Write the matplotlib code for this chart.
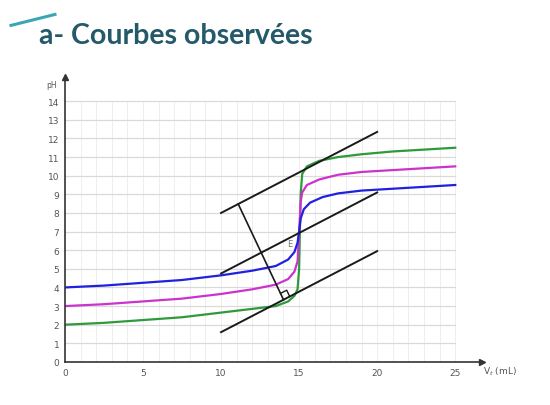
import numpy as np
import matplotlib.pyplot as plt
from matplotlib.lines import Line2D

# volumes (mL) and pH
blue_x = [0, 2.5, 5, 7.5, 10, 12, 13.5, 14.3, 14.7, 14.9, 15.0, 15.1, 15.3, 15.7, 16.5, 17.5, 19, 21, 23, 25]
blue_y = [4.0, 4.1, 4.25, 4.4, 4.65, 4.9, 5.15, 5.5, 5.9, 6.4, 7.0, 7.7, 8.2, 8.55, 8.85, 9.05, 9.2, 9.3, 9.4, 9.5]

magenta_x = [0, 2.5, 5, 7.5, 10, 12, 13.5, 14.3, 14.7, 14.9, 15.0, 15.1, 15.2, 15.5, 16.3, 17.5, 19, 21, 23, 25]
magenta_y = [3.0, 3.1, 3.25, 3.4, 3.65, 3.9, 4.15, 4.45, 4.85, 5.4, 7.0, 8.6, 9.1, 9.5, 9.8, 10.05, 10.2, 10.3, 10.4, 10.5]

green_x = [0, 2.5, 5, 7.5, 10, 12, 13.5, 14.3, 14.7, 14.9, 15.0, 15.05, 15.1, 15.2, 15.5, 16.3, 17.5, 19, 21, 23, 25]
green_y = [2.0, 2.1, 2.25, 2.4, 2.65, 2.85, 3.0, 3.25, 3.55, 3.9, 5.0, 7.0, 9.0, 10.1, 10.5, 10.8, 11.0, 11.15, 11.3, 11.4, 11.5]

# parallel tangents method
tangent_x = [10, 20]
tangent_top = [8.0, 12.35]
tangent_mid = [4.75, 9.1]
tangent_low = [1.6, 5.95]
perp_x = [11.1, 14.0]
perp_y = [8.48, 3.34]
point_e = (14.4, 6.35)

x_ticks = [0, 5, 10, 15, 20, 25]
y_ticks = list(range(0, 15))

fig = plt.figure(figsize=(5.5, 4.06), dpi=100)
ax = fig.add_axes([0.118, 0.106, 0.758, 0.702])
ax.set_xlim(0, 26.7)
ax.set_ylim(0, 15.3)

# grid
for v in np.arange(1, 26):
    ax.plot([v, v], [0, 14], color="#eeeeee", lw=0.7, zorder=0)
for p in y_ticks[1:]:
    ax.plot([0, 25], [p, p], color="#dadada", lw=0.9, zorder=0)

ax.plot(green_x, green_y, color="#2f9a3c", lw=1.6)
ax.plot(magenta_x, magenta_y, color="#cc33cc", lw=1.6)
ax.plot(blue_x, blue_y, color="#2020e0", lw=1.6)

for ty in (tangent_top, tangent_mid, tangent_low):
    ax.plot(tangent_x, ty, color="#1a1a1a", lw=1.4)
ax.plot(perp_x, perp_y, color="#1a1a1a", lw=1.2)

# right-angle mark at the foot of the perpendicular
fig.canvas.draw()
tr = ax.transData
foot = tr.transform((perp_x[1], perp_y[1]))
a = tr.transform((tangent_x[1], tangent_low[1])) - tr.transform((tangent_x[0], tangent_low[0]))
b = tr.transform((perp_x[0], perp_y[0])) - foot
a = a / np.hypot(*a) * 7
b = b / np.hypot(*b) * 7
sq = np.array([foot + a, foot + a + b, foot + b])
sq = tr.inverted().transform(sq)
ax.plot(sq[:, 0], sq[:, 1], color="#1a1a1a", lw=1.0)

ax.text(point_e[0], point_e[1], "E", fontsize=6, color="#777777", ha="center", va="center")

# axes with arrows
for s in ("top", "right"):
    ax.spines[s].set_visible(False)
for s in ("left", "bottom"):
    ax.spines[s].set_color("#333333")
    ax.spines[s].set_linewidth(1.2)
ax.plot(1, 0, ">", color="#333333", ms=4, transform=ax.transAxes, clip_on=False)
ax.plot(0, 1, "^", color="#333333", ms=4, transform=ax.transAxes, clip_on=False)

ax.set_xticks(x_ticks)
ax.set_yticks(y_ticks)
ax.tick_params(length=0, labelsize=6.5, labelcolor="#555555", pad=4)

ax.text(-0.02, 0.975, "pH", transform=ax.transAxes, fontsize=5.5, color="#555555",
        ha="right", va="center")
ax.text(1.003, -0.03, "V$_t$ (mL)", transform=ax.transAxes, fontsize=6.5, color="#555555",
        ha="left", va="center")

# slide title and decoration
fig.text(0.07, 0.912, "a- Courbes observées", fontsize=20.5, fontweight="bold",
         family="Lato", color="#24596a", va="center", ha="left")
fig.add_artist(Line2D([0.02, 0.1], [0.935, 0.962], color="#3aa6b5", lw=2.2,
                      transform=fig.transFigure))

fig.savefig("out.png", dpi=100)
